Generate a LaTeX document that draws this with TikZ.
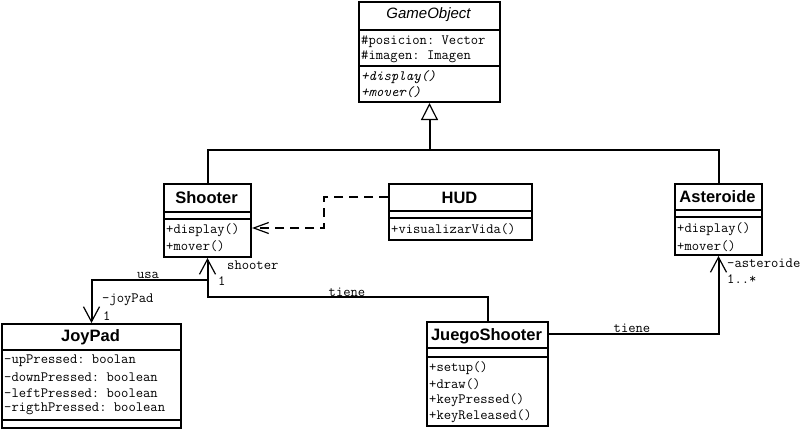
\documentclass[tikz,border=0pt]{standalone}
\usepackage{fontspec}
\setmainfont{Liberation Sans}
\setmonofont{Latin Modern Mono}
\usetikzlibrary{arrows.meta,calc}
\begin{document}
\begin{tikzpicture}[x=1pt,y=-1pt,
  cls/.style={draw, line width=2pt, inner sep=0pt, anchor=north west},
  ttl/.style={font=\fontsize{16.5}{18}\selectfont\bfseries, inner sep=0pt},
  ittl/.style={font=\fontsize{15}{17}\selectfont\itshape, inner sep=0pt},
  mem/.style={font=\ttfamily\fontsize{14.2}{16}\selectfont, inner sep=0pt, anchor=west},
  imem/.style={font=\ttfamily\itshape\fontsize{14.2}{16}\selectfont, inner sep=0pt, anchor=west},
  lbl/.style={font=\ttfamily\fontsize{14.2}{16}\selectfont, inner sep=0pt},
  divline/.style={line width=2pt},
  conn/.style={line width=2pt},
  assoc/.style={line width=2pt, -{Straight Barb[length=15pt,width=16pt,line width=1.2pt]}},
  gen/.style={line width=2pt, -{Triangle[open,length=17pt,width=17pt,line width=1.2pt,fill=white]}},
  dep/.style={line width=2pt, dash pattern=on 9pt off 6pt, -{Straight Barb[length=15pt,width=11pt,line width=1.2pt]}}
]
\useasboundingbox (0,0) rectangle (806,429);

% GameObject
\node[cls, minimum width=141pt, minimum height=100pt] (GameObject) at (358,1) {};
\draw[divline] (GameObject.west |- 0,30) -- (GameObject.east |- 0,30);
\draw[divline] (GameObject.west |- 0,66) -- (GameObject.east |- 0,66);
\node[ittl] (GameObject-t) at (428.5,15) {GameObject};
\node[mem] (GameObject-a1) at (361,42) {\#posicion: Vector};
\node[mem] (GameObject-a2) at (361,57) {\#imagen: Imagen};
\node[imem] (GameObject-m1) at (361,77) {+display()};
\node[imem] (GameObject-m2) at (361,92) {+mover()};

% Shooter
\node[cls, minimum width=87pt, minimum height=73pt] (Shooter) at (163,183) {};
\draw[divline] (Shooter.west |- 0,212) -- (Shooter.east |- 0,212);
\draw[divline] (Shooter.west |- 0,219) -- (Shooter.east |- 0,219);
\node[ttl] (Shooter-t) at (206.5,198) {Shooter};
\node[mem] (Shooter-m1) at (166,230) {+display()};
\node[mem] (Shooter-m2) at (166,246) {+mover()};

% HUD
\node[cls, minimum width=143pt, minimum height=56pt] (HUD) at (388,183) {};
\draw[divline] (HUD.west |- 0,211) -- (HUD.east |- 0,211);
\draw[divline] (HUD.west |- 0,218) -- (HUD.east |- 0,218);
\node[ttl] (HUD-t) at (459.5,198) {HUD};
\node[mem] (HUD-m1) at (391,229) {+visualizarVida()};

% Asteroide
\node[cls, minimum width=87pt, minimum height=71pt] (Asteroide) at (674,183) {};
\draw[divline] (Asteroide.west |- 0,210) -- (Asteroide.east |- 0,210);
\draw[divline] (Asteroide.west |- 0,217) -- (Asteroide.east |- 0,217);
\node[ttl] (Asteroide-t) at (717.5,197) {Asteroide};
\node[mem] (Asteroide-m1) at (677,229) {+display()};
\node[mem] (Asteroide-m2) at (677,246) {+mover()};

% JoyPad
\node[cls, minimum width=179pt, minimum height=104pt] (JoyPad) at (1,323) {};
\draw[divline] (JoyPad.west |- 0,350) -- (JoyPad.east |- 0,350);
\draw[divline] (JoyPad.west |- 0,420) -- (JoyPad.east |- 0,420);
\node[ttl] (JoyPad-t) at (90.5,337) {JoyPad};
\node[mem] (JoyPad-a1) at (4,361) {-upPressed: boolan};
\node[mem] (JoyPad-a2) at (4,377) {-downPressed: boolean};
\node[mem] (JoyPad-a3) at (4,393) {-leftPressed: boolean};
\node[mem] (JoyPad-a4) at (4,409) {-rigthPressed: boolean};

% JuegoShooter
\node[cls, minimum width=121pt, minimum height=104pt] (JuegoShooter) at (426,321) {};
\draw[divline] (JuegoShooter.west |- 0,348) -- (JuegoShooter.east |- 0,348);
\draw[divline] (JuegoShooter.west |- 0,357) -- (JuegoShooter.east |- 0,357);
\node[ttl] (JuegoShooter-t) at (486.5,336) {JuegoShooter};
\node[mem] (JuegoShooter-m1) at (429,368) {+setup()};
\node[mem] (JuegoShooter-m2) at (429,384) {+draw()};
\node[mem] (JuegoShooter-m3) at (429,400) {+keyPressed()};
\node[mem] (JuegoShooter-m4) at (429,416) {+keyReleased()};

% Generalization
\coordinate (genJ) at (GameObject.south |- 0,150);
\draw[gen] (Shooter.north) |- (genJ) -- (GameObject.south);
\draw[conn] (Asteroide.north) |- (genJ);

% Dependency HUD -> Shooter
\coordinate (depA) at (324,197);
\coordinate (depB) at (324,228);
\draw[dep] (HUD.west |- depA) -- (depA) -- (depB) -- (Shooter.east |- depB);

% Associations
\coordinate (shJ) at (Shooter.south |- 0,297);
\draw[assoc] (JuegoShooter.north) |- (shJ) -- (Shooter.south);
\coordinate (usaJ) at (Shooter.south |- 0,280);
\draw[assoc] (usaJ) -| (JoyPad.north);
\coordinate (astJ) at (JuegoShooter.east |- 0,334);
\draw[assoc] (astJ) -| (Asteroide.south);

% Labels
\node[lbl] (l-usa) at (148,275) {usa};
\node[lbl, anchor=west] (l-joypad) at (102,300) {-joyPad};
\node[lbl, anchor=west] (l-joy1) at (103,316) {1};
\node[lbl, anchor=west] (l-shooter) at (227,265) {shooter};
\node[lbl, anchor=west] (l-sh1) at (218,281) {1};
\node[lbl] (l-tiene1) at (347,292) {tiene};
\node[lbl] (l-tiene2) at (632,328) {tiene};
\node[lbl, anchor=west] (l-ast) at (727,263) {-asteroide};
\node[lbl, anchor=west] (l-ast1) at (727,279) {1..*};
\end{tikzpicture}
\end{document}
